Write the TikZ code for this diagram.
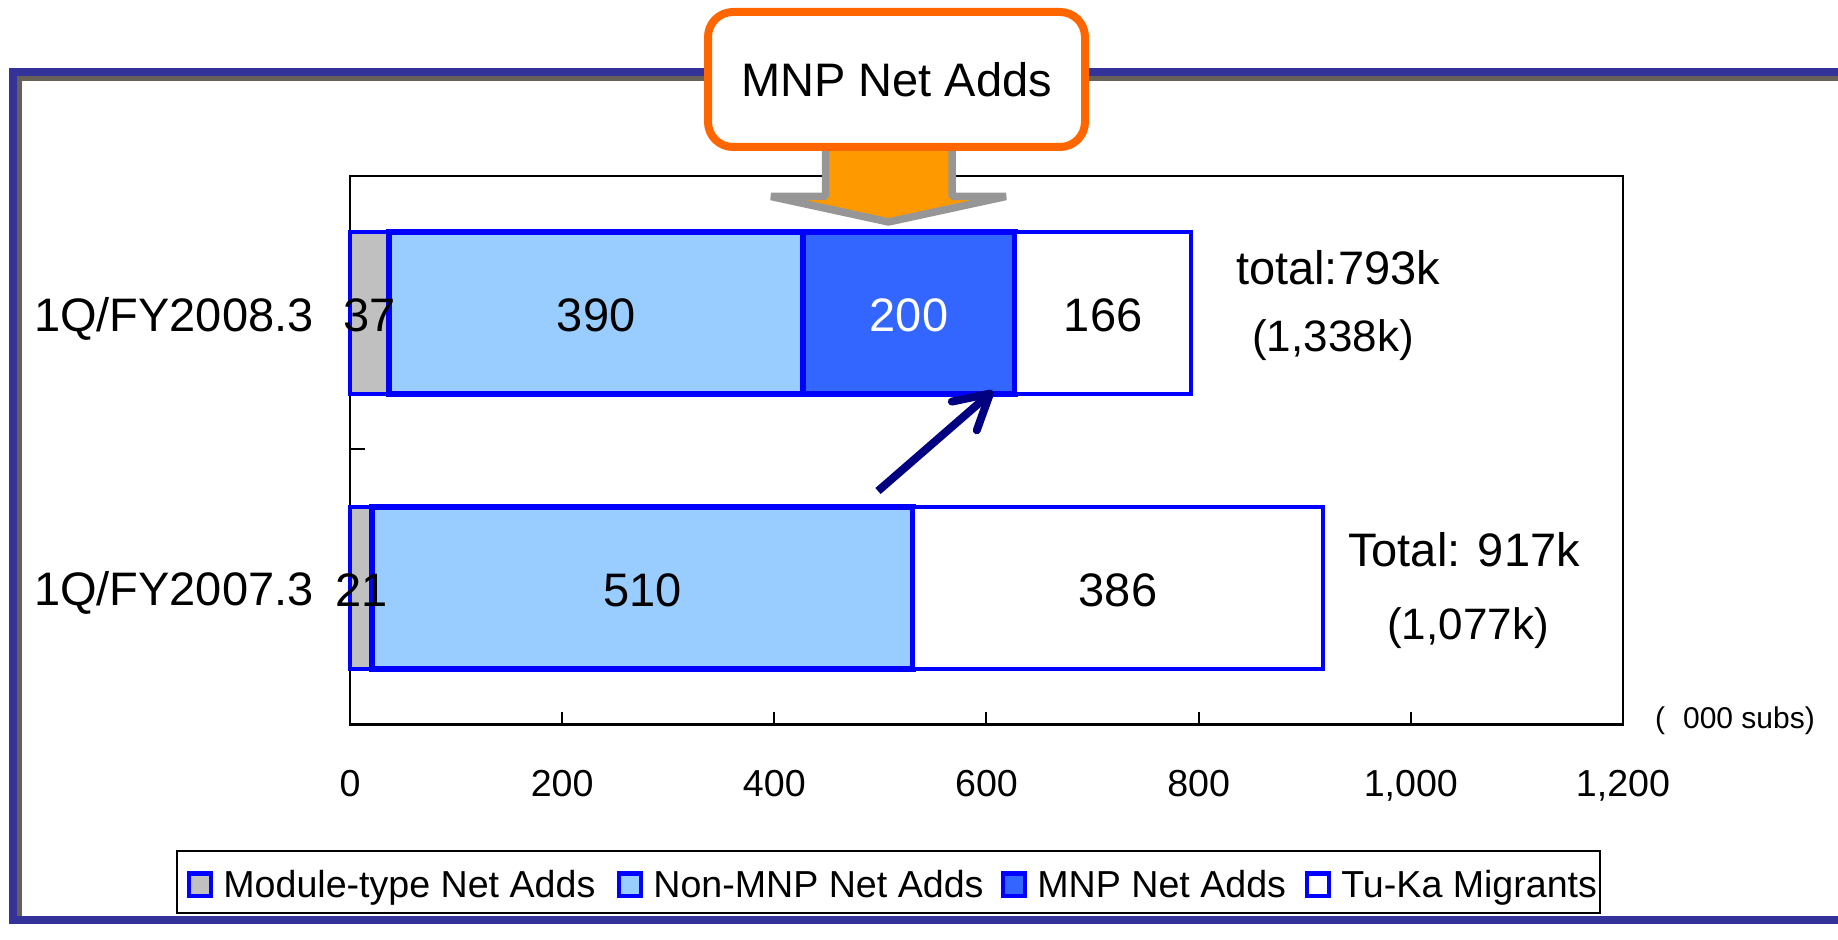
\documentclass[tikz,border=0pt]{standalone}
\usepackage{fontspec}
\setmainfont{Liberation Sans}
\usepackage{xcolor}
\usepackage{tikz}
\usetikzlibrary{arrows.meta,calc}

\definecolor{frameblue}{RGB}{51,51,153}
\definecolor{framegray}{RGB}{102,96,86}
\definecolor{edgeblue}{RGB}{0,0,255}
\definecolor{modgray}{RGB}{192,192,192}
\definecolor{nonmnp}{RGB}{153,204,255}
\definecolor{mnpblue}{RGB}{51,102,255}
\definecolor{gainnavy}{RGB}{0,0,128}
\definecolor{calloutorange}{RGB}{255,102,0}
\definecolor{arroworange}{RGB}{255,153,0}
\definecolor{arrowgray}{RGB}{150,150,150}

\begin{document}
\begin{tikzpicture}[x=0.5pt,y=-0.5pt,
    bigtxt/.style={font=\fontsize{23.5}{28}\selectfont, inner sep=0pt},
    midtxt/.style={font=\fontsize{22}{26}\selectfont, inner sep=0pt},
    smalltxt/.style={font=\fontsize{18.8}{22}\selectfont, inner sep=0pt},
    thinseg/.style={draw=edgeblue, line width=1.75pt},
    thickseg/.style={draw=edgeblue, line width=3pt},
    keybox/.style={draw=edgeblue, line width=2pt, minimum size=11pt, inner sep=0pt}]
    \useasboundingbox (0,0) rectangle (1838,940);

    \draw[framegray, line width=2.5pt] (1838,79) -- (19,79) -- (19,918);
    \draw[frameblue, line width=4.2pt] (1838,72) -- (12.75,72) -- (12.75,920) -- (1838,920);

    \draw[line width=1pt] (350,176) rectangle (1623,725);
    \draw[line width=1.5pt] (350,725) -- (1623,725);
    \draw[line width=1pt] (350,449) -- (365,449);
    \foreach \v/\lbl in {0/0, 200/200, 400/400, 600/600, 800/800, 1000/{1,000}, 1200/{1,200}} {
        \draw[line width=1pt] ({350+\v*1.0608},725) -- ++(0,-13);
        \node[smalltxt, anchor=base] (tick\v) at ({350+\v*1.0608},797) {\lbl};
    }

    \foreach \yc/\from/\to/\fc/\sty in {313/0/37/modgray/thinseg, 313/37/427/nonmnp/thickseg,
        313/427/627/mnpblue/thickseg, 313/627/793/white/thinseg,
        588/0/21/modgray/thinseg, 588/21/531/nonmnp/thickseg, 588/531/917/white/thinseg}
        \draw[\sty, fill=\fc] ({350+\from*1.0608},\yc-81) rectangle ({350+\to*1.0608},\yc+81);

    \foreach \nm/\yc/\xc/\txt/\tc in {mod08/313/18.5/37/black, non08/313/232/390/black,
        mnp08/313/527/200/white, tuka08/313/710/166/black,
        mod07/588/10.5/21/black, non07/588/276/510/black, tuka07/588/724/386/black}
        \node[bigtxt, anchor=base, text=\tc] (\nm) at ({350+\xc*1.0608},\yc+19) {\txt};

    \node[bigtxt, anchor=base east] (cat08) at (314,332) {1Q/FY2008.3};
    \node[bigtxt, anchor=base east] (cat07) at (314,606) {1Q/FY2007.3};

    \node[bigtxt, anchor=base] (total08) at (1338,285) {total:793k};
    \node[midtxt, anchor=base] (all08) at (1333,352) {(1,338k)};
    \node[bigtxt, anchor=base] (total07) at (1464,567) {Total: 917k};
    \node[midtxt, anchor=base] (all07) at (1468,640) {(1,077k)};
    \node[font=\fontsize{15}{18}\selectfont, inner sep=0pt] (unit) at (1735,721) {(\hspace{0.6em}000 subs)};

    \draw[arrowgray, fill=arroworange, line width=3.75pt, line join=bevel]
        (825.5,140) -- (825.5,196.5) -- (771,196.5) -- (888.5,222) -- (1006,196.5) -- (952,196.5) -- (952,140);
    \node[draw=calloutorange, fill=white, line width=4pt, rounded corners=12.5pt,
        minimum width=188.5pt, minimum height=67.5pt, bigtxt] (callout) at (896.5,79.5) {MNP Net Adds};

    \coordinate (gaintail) at (878,491);
    \coordinate (gaintip) at (993,391);
    \draw[gainnavy, line width=4pt, -{Straight Barb[length=17pt, width=19pt, round]}] (gaintail) -- (gaintip);

    \draw[line width=1pt] (177,851) rectangle (1600,913);
    \foreach \fc/\mx/\txt [count=\i] in {modgray/200/Module-type Net Adds, nonmnp/630/Non-MNP Net Adds,
        mnpblue/1014/MNP Net Adds, white/1318/Tu-Ka Migrants} {
        \node[keybox, fill=\fc] (key\i) at (\mx,884.5) {};
        \node[smalltxt, anchor=base west] (keytxt\i) at (\mx+23,898) {\txt};
    }
\end{tikzpicture}
\end{document}
